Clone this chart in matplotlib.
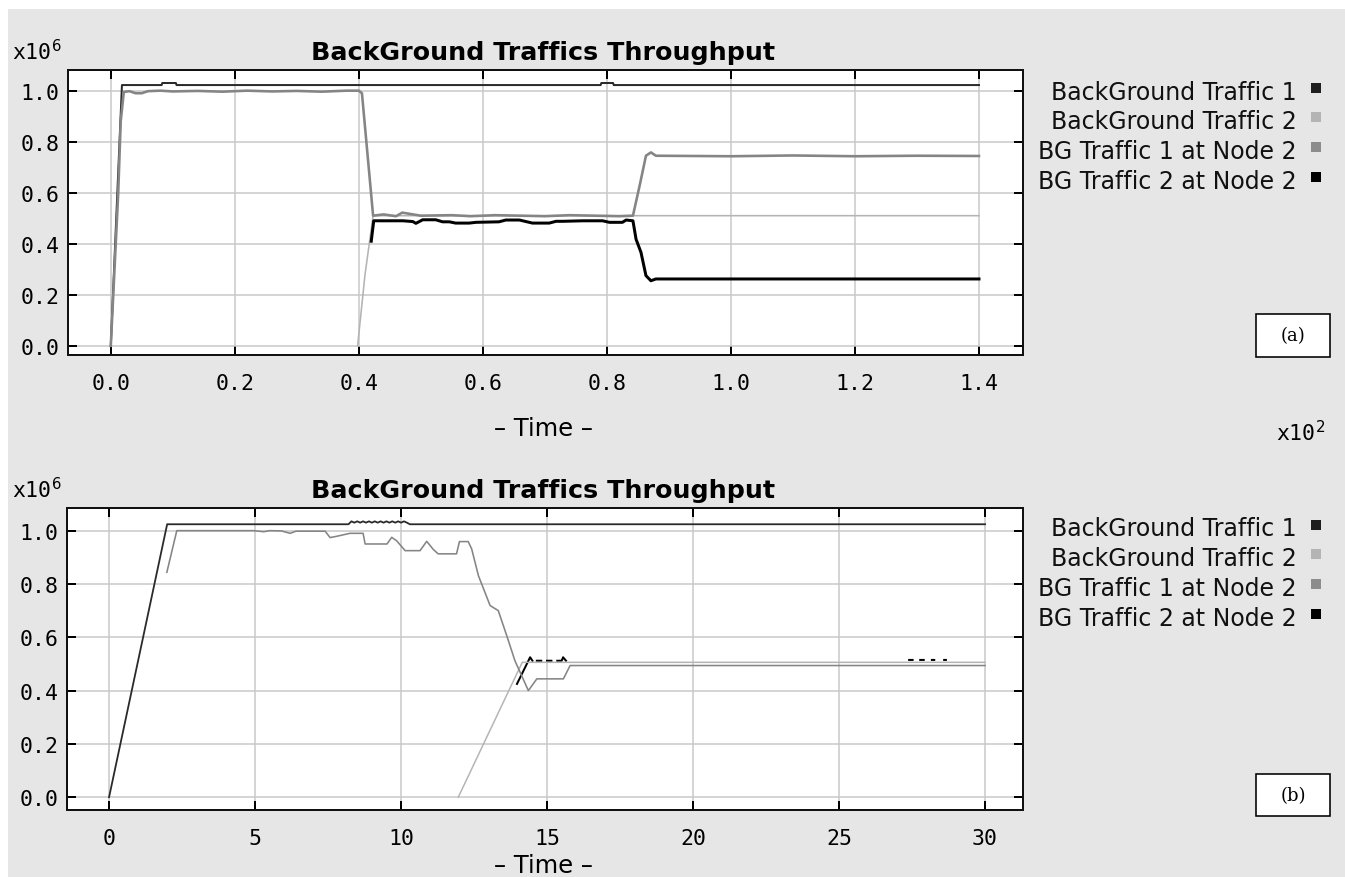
import numpy as np
import matplotlib
matplotlib.use("Agg")
import matplotlib.pyplot as plt
from matplotlib.patches import Rectangle

nan = np.nan

# ---- panel (a): time in x10^2 s, throughput in x10^6 ----
a_bg1_t = [0.0, 0.018, 0.082, 0.083, 0.105, 0.106, 0.79, 0.791, 0.81, 0.811, 1.4]
a_bg1_y = [0.0, 1.022, 1.022, 1.03, 1.03, 1.022, 1.022, 1.03, 1.03, 1.022, 1.022]

a_bg2_t = [0.398, 0.41, 0.423, 1.4]
a_bg2_y = [0.0, 0.28, 0.51, 0.51]

a_n1_t = [0.0, 0.012, 0.016, 0.021, 0.03, 0.04, 0.05, 0.06, 0.08, 0.1, 0.14, 0.18,
          0.22, 0.26, 0.3, 0.34, 0.38, 0.4, 0.405, 0.423, 0.44, 0.46, 0.47, 0.5,
          0.55, 0.58, 0.62, 0.66, 0.7, 0.74, 0.78, 0.82, 0.842, 0.853, 0.863, 0.871,
          0.879, 1.0, 1.1, 1.2, 1.3, 1.4]
a_n1_y = [0.0, 0.6, 0.88, 0.995, 0.998, 0.99, 0.99, 0.998, 1.0, 0.997, 0.999, 0.996,
          1.0, 0.997, 0.999, 0.996, 1.0, 1.0, 0.99, 0.51, 0.515, 0.508, 0.522, 0.51,
          0.512, 0.508, 0.512, 0.51, 0.508, 0.512, 0.51, 0.508, 0.51, 0.63, 0.745, 0.758,
          0.745, 0.743, 0.746, 0.743, 0.745, 0.744]

a_n2_t = [0.42, 0.424, 0.439, 0.455, 0.471, 0.487, 0.492, 0.503, 0.524, 0.535, 0.546,
          0.556, 0.578, 0.589, 0.626, 0.637, 0.659, 0.680, 0.707, 0.718, 0.729, 0.761,
          0.793, 0.804, 0.825, 0.831, 0.842, 0.847, 0.855, 0.863, 0.871, 0.879, 1.4]
a_n2_y = [0.41, 0.49, 0.49, 0.49, 0.49, 0.487, 0.48, 0.494, 0.494, 0.486, 0.486,
          0.481, 0.481, 0.484, 0.486, 0.493, 0.493, 0.481, 0.481, 0.488, 0.488, 0.49,
          0.49, 0.484, 0.484, 0.493, 0.49, 0.418, 0.366, 0.275, 0.255, 0.262, 0.262]

# ---- panel (b): time in s ----
b_bg1_t = [0.0, 1.99, 8.2, 8.3, 8.4, 8.5, 8.6, 8.7, 8.8, 8.9, 9.0, 9.1, 9.2, 9.3,
           9.4, 9.5, 9.6, 9.7, 9.8, 9.9, 10.0, 10.1, 10.2, 10.3, 30.0]
b_bg1_y = [0.0, 1.024, 1.024, 1.035, 1.03, 1.035, 1.03, 1.035, 1.03, 1.035, 1.03,
           1.035, 1.03, 1.035, 1.03, 1.035, 1.03, 1.035, 1.03, 1.035, 1.03, 1.035,
           1.03, 1.024, 1.024]

b_bg2_t = [11.96, 14.15, 30.0]
b_bg2_y = [0.0, 0.506, 0.506]

b_n1_t = [1.98, 2.32, 4.95, 5.3, 5.5, 5.9, 6.2, 6.4, 7.4, 7.57, 7.8, 8.25, 8.7,
          8.77, 9.52, 9.68, 9.85, 10.14, 10.65, 10.88, 11.1, 11.27, 11.9, 12.0, 12.3,
          12.42, 12.65, 13.05, 13.33, 13.62, 13.9, 14.36, 14.65, 15.56, 15.79, 30.0]
b_n1_y = [0.844, 1.0, 1.0, 0.996, 1.0, 0.999, 0.99, 0.998, 0.998, 0.974, 0.979, 0.99,
          0.99, 0.95, 0.95, 0.975, 0.962, 0.925, 0.925, 0.96, 0.93, 0.913, 0.913, 0.959,
          0.959, 0.931, 0.831, 0.719, 0.70, 0.606, 0.512, 0.40, 0.444, 0.444, 0.494, 0.494]

b_n2_t = [13.97, 14.42, 14.5, nan, 14.65, 14.8, nan, 15.0, 15.15, nan, 15.35, 15.5,
          15.55, 15.65, nan, 27.4, 27.52, nan, 27.78, 27.9, nan, 28.18, 28.26, nan,
          28.6, 28.66]
b_n2_y = [0.425, 0.525, 0.512, nan, 0.512, 0.512, nan, 0.512, 0.512, nan, 0.512, 0.512,
          0.525, 0.512, nan, 0.515, 0.515, nan, 0.515, 0.515, nan, 0.515, 0.515, nan,
          0.515, 0.515]

labels = ["BackGround Traffic 1", "BackGround Traffic 2",
          "BG Traffic 1 at Node 2", "BG Traffic 2 at Node 2"]
line_colors = ["#2a2a2a", "#b4b4b4", "#858585", "#000000"]
legend_colors = ["#1e1e1e", "#b4b4b4", "#8c8c8c", "#000000"]

W, H = 1345, 878
fig = plt.figure(figsize=(W / 100, H / 100), dpi=100)
fig.patch.set_facecolor("white")
bg = "#e6e6e6"
fig.add_artist(Rectangle((8 / W, 0), 1, 1 - 10 / H, transform=fig.transFigure,
                         facecolor=bg, edgecolor="none", zorder=-10))


def fx(px):
    return px / W


def fy(py):
    return 1 - py / H


px = 0.72  # points per pixel at dpi 100

ax1 = fig.add_axes([fx(68), fy(356), fx(1023) - fx(68), fy(71) - fy(356)])
ax2 = fig.add_axes([fx(67), fy(811), fx(1023) - fx(67), fy(509) - fy(811)])

ax1.plot(a_bg1_t, a_bg1_y, color=line_colors[0], lw=2 * px, zorder=3)
ax1.plot(a_bg2_t, a_bg2_y, color=line_colors[1], lw=1.6 * px, zorder=3)
ax1.plot(a_n1_t, a_n1_y, color=line_colors[2], lw=2.6 * px, zorder=4)
ax1.plot(a_n2_t, a_n2_y, color=line_colors[3], lw=3 * px, zorder=5)

ax2.plot(b_n2_t, b_n2_y, color=line_colors[3], lw=2 * px, zorder=3)
ax2.plot(b_bg1_t, b_bg1_y, color=line_colors[0], lw=1.8 * px, zorder=4)
ax2.plot(b_bg2_t, b_bg2_y, color=line_colors[1], lw=1.5 * px, zorder=4)
ax2.plot(b_n1_t, b_n1_y, color=line_colors[2], lw=1.6 * px, zorder=5)

tick_font = dict(family="DejaVu Sans Mono", size=15.5)

for ax, xt, xl, xlim, ylim in [
    (ax1, np.arange(0, 1.41, 0.2), [f"{v:.1f}" for v in np.arange(0, 1.41, 0.2)],
     (-0.069, 1.471), (-0.036, 1.081)),
    (ax2, np.arange(0, 31, 5), [str(v) for v in range(0, 31, 5)],
     (-1.44, 31.3), (-0.048, 1.085)),
]:
    ax.set_facecolor("white")
    ax.set_xlim(*xlim)
    ax.set_ylim(*ylim)
    ax.set_xticks(xt)
    ax.set_xticklabels(xl, fontdict=tick_font)
    yt = np.arange(0, 1.01, 0.2)
    ax.set_yticks(yt)
    ax.set_yticklabels([f"{v:.1f}" for v in yt], fontdict=tick_font)
    ax.grid(True, color="#c8c8c8", lw=1.5 * px, zorder=0)
    ax.set_axisbelow(True)
    ax.tick_params(direction="in", length=9 * px, width=2 * px, top=True, right=True,
                   color="black")
    ax.tick_params(axis="x", pad=13)
    ax.tick_params(axis="y", pad=6)
    for s in ax.spines.values():
        s.set_linewidth(2 * px)
        s.set_color("#111111")

# texts
title = "BackGround Traffics Throughput"
fig.text(fx(543), fy(60), title, ha="center", va="baseline", fontsize=18.3,
         fontweight="bold", family="DejaVu Sans")
fig.text(fx(543), fy(498), title, ha="center", va="baseline", fontsize=18.3,
         fontweight="bold", family="DejaVu Sans")

for yb in (60, 498):
    fig.text(fx(12), fy(yb), r"x10$^6$", ha="left", va="baseline",
             fontsize=15.5, family="DejaVu Sans Mono")

fig.text(fx(543), fy(436), "\u2013 Time \u2013", ha="center", va="baseline",
         fontsize=17.5, family="DejaVu Sans")
fig.text(fx(543), fy(873), "\u2013 Time \u2013", ha="center", va="baseline",
         fontsize=17.5, family="DejaVu Sans")
fig.text(fx(1325), fy(441), r"x10$^2$", ha="right", va="baseline", fontsize=15.5,
         family="DejaVu Sans Mono")

# legends
for base in (99.5, 536.5):
    for i, (lab, col) in enumerate(zip(labels, legend_colors)):
        yb = base + i * 29.7
        fig.text(fx(1297), fy(yb), lab, ha="right", va="baseline", fontsize=17,
                 family="DejaVu Sans", color="#111111")
        fig.add_artist(Rectangle((fx(1311), fy(yb - 6)), 10 / W, 10 / H,
                                 transform=fig.transFigure, facecolor=col,
                                 edgecolor="none"))

# panel tags
for tag, top, bot in (("(a)", 315, 358), ("(b)", 775, 817)):
    fig.add_artist(Rectangle((fx(1256), fy(bot)), 74 / W, (bot - top) / H,
                             transform=fig.transFigure, facecolor="white",
                             edgecolor="black", lw=1.6 * px))
    fig.text(fx(1293), fy((top + bot) / 2), tag, ha="center", va="center",
             fontsize=13, family="DejaVu Serif")

fig.savefig("out.png", dpi=100)
